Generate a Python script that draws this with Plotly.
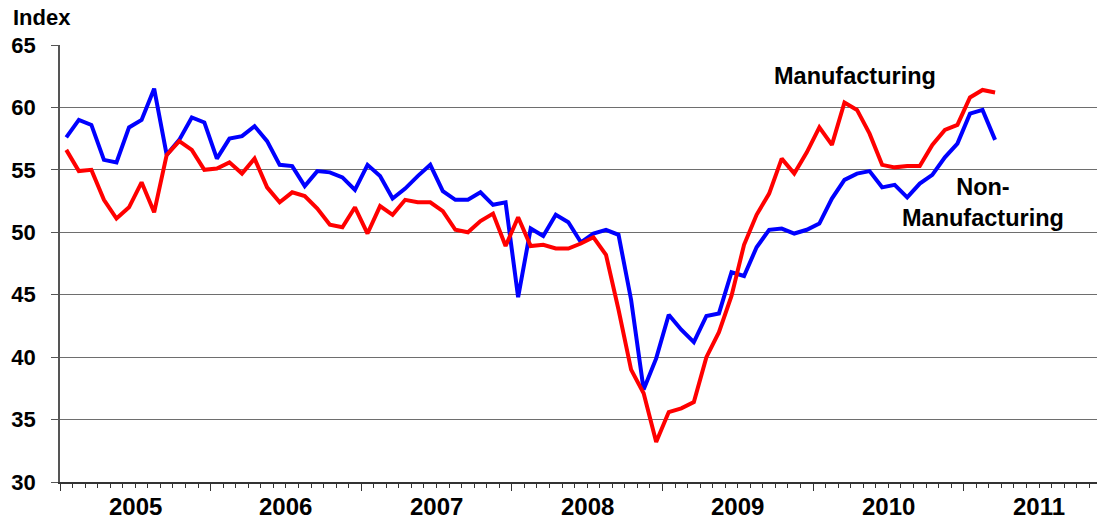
import plotly.graph_objects as go

# Monthly index values, Jan 2005 .. Mar 2011
manufacturing = [
    56.6, 54.9, 55.0, 52.6, 51.1, 52.0, 54.0, 51.6, 56.2, 57.3, 56.6, 55.0,
    55.1, 55.6, 54.7, 55.9, 53.6, 52.4, 53.2, 52.9, 51.9, 50.6, 50.4, 52.0,
    49.9, 52.1, 51.4, 52.6, 52.4, 52.4, 51.7, 50.2, 50.0, 50.9, 51.5, 48.9,
    51.2, 48.9, 49.0, 48.7, 48.7, 49.1, 49.6, 48.2, 43.8, 39.0, 37.1, 33.2,
    35.6, 35.9, 36.4, 40.0, 42.0, 44.9, 49.0, 51.4, 53.1, 55.9, 54.7, 56.4,
    58.4, 57.0, 60.4, 59.8, 57.9, 55.4, 55.2, 55.3, 55.3, 57.0, 58.2, 58.6,
    60.8, 61.4, 61.2,
]
non_manufacturing = [
    57.6, 59.0, 58.6, 55.8, 55.6, 58.4, 59.0, 61.5, 56.2, 57.4, 59.2, 58.8,
    55.9, 57.5, 57.7, 58.5, 57.3, 55.4, 55.3, 53.7, 54.9, 54.8, 54.4, 53.4,
    55.4, 54.5, 52.7, 53.5, 54.5, 55.4, 53.3, 52.6, 52.6, 53.2, 52.2, 52.4,
    44.8, 50.3, 49.7, 51.4, 50.8, 49.2, 49.9, 50.2, 49.8, 44.6, 37.4, 39.9,
    43.4, 42.2, 41.2, 43.3, 43.5, 46.8, 46.5, 48.8, 50.2, 50.3, 49.9, 50.2,
    50.7, 52.7, 54.2, 54.7, 54.9, 53.6, 53.8, 52.8, 53.9, 54.6, 56.0, 57.1,
    59.5, 59.8, 57.4,
]
years = ["2005", "2006", "2007", "2008", "2009", "2010", "2011"]
y_ticks = [30, 35, 40, 45, 50, 55, 60, 65]

FONT = "Liberation Sans, Arial, sans-serif"
months = list(range(len(manufacturing)))

fig = go.Figure()
fig.add_trace(go.Scatter(x=months, y=non_manufacturing, mode="lines",
                         line=dict(color="#0000FF", width=4), name="Non-Manufacturing"))
fig.add_trace(go.Scatter(x=months, y=manufacturing, mode="lines",
                         line=dict(color="#FF0000", width=4), name="Manufacturing"))

year_bounds = [12 * i - 0.5 for i in range(len(years))]
year_centers = [12 * i + 5.5 for i in range(len(years))]

# page body has an 8px default margin, so the figure is 8px smaller and shifted
fig.update_layout(
    width=1097, height=512,
    margin=dict(l=52, r=7, t=37, b=38, autoexpand=False),
    paper_bgcolor="white", plot_bgcolor="white",
    showlegend=False,
    font=dict(family=FONT, color="black"),
    xaxis=dict(
        automargin=False,
        range=[-0.5, 82.2],
        tickmode="array", tickvals=year_bounds, ticktext=[""] * len(year_bounds),
        ticks="outside", ticklen=7, tickcolor="#333333", tickwidth=1,
        minor=dict(ticks="outside", ticklen=4, tick0=-0.5, dtick=1,
                   tickcolor="#333333", tickwidth=1, showgrid=False),
        showgrid=False, zeroline=False,
        showline=True, linecolor="#333333", linewidth=1.5,
    ),
    yaxis=dict(
        automargin=False,
        range=[30, 65], tickmode="array", tickvals=y_ticks,
        ticktext=[f"<b>{v}</b>" for v in y_ticks],
        ticks="outside", ticklen=7, tickcolor="#555555", tickwidth=1,
        tickfont=dict(size=22, family=FONT, color="black"),
        ticklabelstandoff=11,
        showgrid=True, gridcolor="#6e6e6e", gridwidth=1.2,
        zeroline=False, showline=True, linecolor="#555555", linewidth=1.5,
    ),
)

for yr, c in zip(years, year_centers):
    fig.add_annotation(x=c, y=0, xref="x", yref="paper", yshift=-24,
                       text=f"<b>{yr}</b>", showarrow=False,
                       font=dict(size=24, family=FONT, color="black"),
                       xanchor="center", yanchor="middle")

fig.add_annotation(x=0, y=1, xref="paper", yref="paper", xshift=-48, yshift=28,
                   text="<b>Index</b>", showarrow=False, borderpad=0,
                   font=dict(size=22, family=FONT, color="black"),
                   xanchor="left", yanchor="middle")

fig.add_annotation(x=62.8, y=62.5, xref="x", yref="y",
                   text="<b>Manufacturing</b>", showarrow=False,
                   font=dict(size=23.5, family=FONT, color="black"),
                   xanchor="center", yanchor="middle")
fig.add_annotation(x=73.0, y=52.35, xref="x", yref="y",
                   text="<b>Non-</b><br><b>Manufacturing</b>", showarrow=False,
                   font=dict(size=23.5, family=FONT, color="black"),
                   xanchor="center", yanchor="middle", align="center")

fig.write_html("out.html")
